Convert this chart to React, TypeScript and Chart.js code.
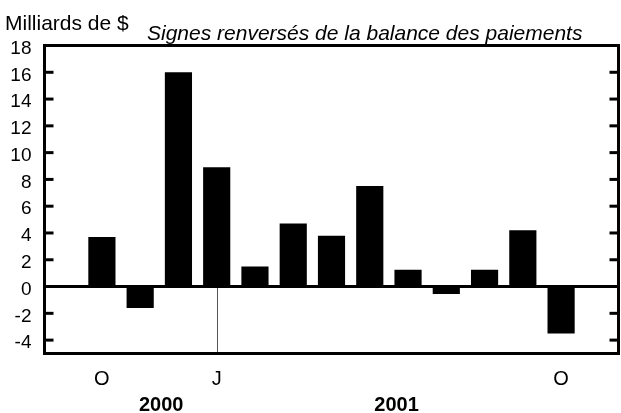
import React, { useEffect, useRef } from "react";
import { Chart, registerables } from "chart.js";

Chart.register(...registerables);

const categories = ["S", "O", "N", "D", "J", "F", "M", "A", "M", "J", "J", "A", "S", "O", "N"];
const shownTickLabels = ["", "O", "", "", "J", "", "", "", "", "", "", "", "", "O", ""];
const values = [null, 3.7, -1.6, 16.0, 8.9, 1.5, 4.7, 3.8, 7.5, 1.25, -0.55, 1.25, 4.2, -3.5, null];
const yTicks = [-4, -2, 0, 2, 4, 6, 8, 10, 12, 14, 16, 18];
const yMin = -5;
const yMax = 18;
const yearLabels = ["2000", "2001"];
const yearPositions = [2.55, 8.7];
const markerCategory = 4;
const unitLabel = "Milliards de $";
const titleText = "Signes renversés de la balance des paiements";

const FAMILY = '"Liberation Sans", Arial, Helvetica, sans-serif';

const decorPlugin = {
  id: "decor",
  afterDatasetsDraw(chart: any) {
    const { ctx, chartArea, scales } = chart;
    const { left, right, top, bottom } = chartArea;
    const x = scales.x;
    const y = scales.y;
    const line = (x1: number, y1: number, x2: number, y2: number) => {
      ctx.beginPath();
      ctx.moveTo(x1, y1);
      ctx.lineTo(x2, y2);
      ctx.stroke();
    };
    ctx.save();
    const y0 = y.getPixelForValue(0);
    ctx.strokeStyle = "#555";
    ctx.lineWidth = 1;
    const xm = Math.round(x.getPixelForValue(markerCategory)) + 0.5;
    line(xm, y0, xm, bottom);
    ctx.strokeStyle = "#000";
    ctx.lineWidth = 3;
    line(left, y0, right, y0);
    for (const v of yTicks) {
      if (v === 0 || v === yMax) continue;
      const py = y.getPixelForValue(v);
      line(left, py, left + 9, py);
      line(right - 9, py, right, py);
    }
    ctx.strokeRect(left, top, right - left, bottom - top);

    ctx.fillStyle = "#000";
    ctx.textAlign = "left";
    ctx.textBaseline = "alphabetic";
    ctx.font = `21px ${FAMILY}`;
    ctx.fillText(unitLabel, 5, 30);
    ctx.font = `italic 21px ${FAMILY}`;
    ctx.fillText(titleText, 147, 40);
    ctx.font = `bold 20px ${FAMILY}`;
    ctx.textAlign = "center";
    yearLabels.forEach((t, i) => {
      ctx.fillText(t, x.getPixelForValue(yearPositions[i]), 411);
    });
    ctx.restore();
  },
};

export default function App() {
  const ref = useRef<HTMLCanvasElement>(null);
  useEffect(() => {
    if (!ref.current) return;
    const chart = new Chart(ref.current, {
      type: "bar",
      data: {
        labels: categories,
        datasets: [
          {
            data: values as any,
            backgroundColor: "#000",
            borderWidth: 0,
            barPercentage: 0.71,
            categoryPercentage: 1.0,
          },
        ],
      },
      options: {
        animation: false,
        responsive: true,
        maintainAspectRatio: false,
        layout: { padding: { top: 45.5, right: 2.5, left: 0, bottom: 0 } },
        plugins: { legend: { display: false }, tooltip: { enabled: false } },
        scales: {
          x: {
            grid: { display: false, drawTicks: false },
            border: { display: false },
            ticks: {
              autoSkip: false,
              maxRotation: 0,
              minRotation: 0,
              padding: 14,
              color: "#000",
              font: { family: FAMILY, size: 20 },
              callback: (_v: any, i: number) => shownTickLabels[i],
            },
            afterFit: (s: any) => {
              s.height = 59.5;
            },
          },
          y: {
            min: yMin,
            max: yMax,
            grid: { display: false, drawTicks: false },
            border: { display: false },
            afterBuildTicks: (s: any) => {
              s.ticks = yTicks.map((v) => ({ value: v }));
            },
            ticks: {
              padding: 13,
              labelOffset: 3,
              color: "#000",
              font: { family: FAMILY, size: 19 },
            },
            afterFit: (s: any) => {
              s.width = 44.5;
            },
          },
        },
      },
      plugins: [decorPlugin],
    });
    return () => chart.destroy();
  }, []);
  return (
    <div style={{ position: "fixed", left: 0, top: 0, width: 621, height: 413, background: "#fff" }}>
      <canvas ref={ref} />
    </div>
  );
}
